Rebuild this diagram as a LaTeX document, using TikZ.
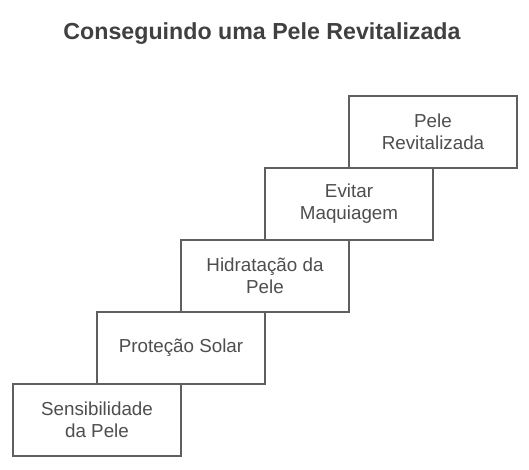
\documentclass[tikz,border=0pt]{standalone}
\usepackage{fontspec}
\setmainfont{Liberation Sans}
\usepackage{tikz}

\definecolor{titlegray}{RGB}{64,64,64}
\definecolor{textgray}{RGB}{78,78,78}
\definecolor{linegray}{RGB}{95,95,95}

\begin{document}
\begin{tikzpicture}[x=1pt, y=-1pt,
  stepbox/.style={draw=linegray, line width=1.1pt, fill=white, rectangle,
    minimum width=168pt, minimum height=72pt, inner sep=0pt, outer sep=0pt,
    anchor=south west, align=center, text=textgray,
    font=\fontsize{18.8}{22}\selectfont},
  title/.style={text=titlegray, font=\fontsize{23.2}{27}\selectfont\bfseries}]
  \useasboundingbox (0,0) rectangle (529,469);

  \node[title, anchor=base] (title) at (262,39) {Conseguindo uma Pele Revitalizada};

  \node[stepbox] (s1) at (13,456) {Sensibilidade\\da Pele};
  \node[stepbox] (s2) at (s1.north) {Proteção Solar};
  \node[stepbox] (s3) at (s2.north) {Hidratação da\\Pele};
  \node[stepbox] (s4) at (s3.north) {Evitar\\Maquiagem};
  \node[stepbox] (s5) at (s4.north) {Pele\\Revitalizada};
\end{tikzpicture}
\end{document}
